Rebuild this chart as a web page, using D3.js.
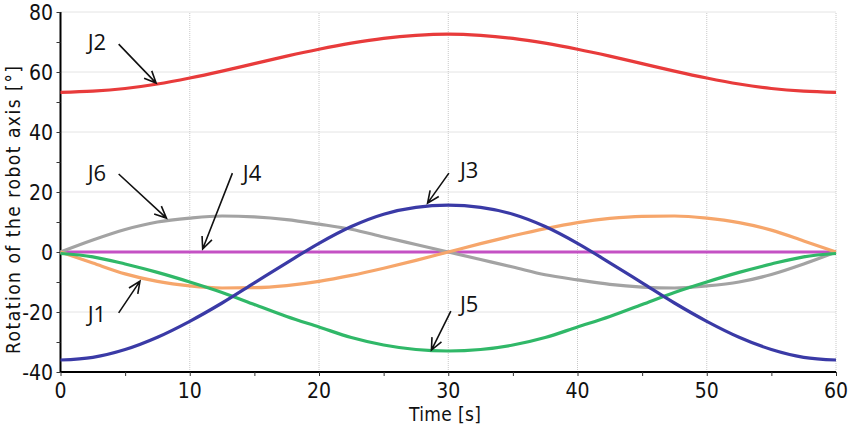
<!DOCTYPE html>
<html>
<head>
<meta charset="utf-8">
<script src="https://cdn.jsdelivr.net/npm/d3@7"></script>
<style>
  body { margin: 0; background: #fff; }
  svg { display: block; }
</style>
</head>
<body>
<script>
var width = 848,
    height = 427;

// time samples [s]
var times = [0, 2.5, 5, 7.5, 10, 12.5, 15, 17.5, 20, 22.5, 25, 27.5, 30,
             32.5, 35, 37.5, 40, 42.5, 45, 47.5, 50, 52.5, 55, 57.5, 60];

// joint rotations [deg]
var j1 = [0, -3.7, -7.3, -9.8, -11.3, -12, -11.9, -11.2, -9.8, -7.8, -5.4, -2.8, 0,
          2.8, 5.4, 7.8, 9.8, 11.2, 11.9, 12, 11.3, 9.8, 7.3, 3.7, 0];
var j2 = [53.2, 53.6, 54.5, 56, 58, 60.3, 62.8, 65.3, 67.6, 69.6, 71.2, 72.2, 72.6,
          72.2, 71.2, 69.6, 67.6, 65.3, 62.8, 60.3, 58, 56, 54.5, 53.6, 53.2];
var j3 = [-36, -35.1, -32.5, -28.4, -23.1, -17, -10.3, -3.6, 2.9, 8.5, 12.6, 14.9, 15.6,
          14.9, 12.6, 8.5, 2.9, -3.6, -10.3, -17, -23.1, -28.4, -32.5, -35.1, -36];
var j4 = [0, 0, 0, 0, 0, 0, 0, 0, 0, 0, 0, 0, 0,
          0, 0, 0, 0, 0, 0, 0, 0, 0, 0, 0, 0];
var j5 = [-0.5, -1.6, -4, -6.8, -10, -13.5, -17.5, -21.5, -25, -28.5, -31, -32.5, -33,
          -32.5, -31, -28.5, -25, -21.5, -17.5, -13.5, -10, -6.8, -4, -1.6, -0.5];
var j6 = [0, 4, 7.5, 10, 11.3, 12, 11.7, 10.8, 9.3, 7.6, 5, 2.5, 0,
          -2.5, -5, -7.6, -9.3, -10.8, -11.7, -12, -11.3, -10, -7.5, -4, 0];

var seriesNames = ["J4", "J6", "J1", "J5", "J3", "J2"];
var seriesValues = [j4, j6, j1, j5, j3, j2];
var seriesColors = ["#c451c4", "#a3a3a3", "#f6a66b", "#30b868", "#3a3aa6", "#e83b3b"];

var xTicks = [0, 10, 20, 30, 40, 50, 60];
var yTicks = [-40, -20, 0, 20, 40, 60, 80];

// annotation labels: text anchor point and arrow (from -> to), in data units
var labelNames = ["J2", "J6", "J4", "J3", "J5", "J1"];
var labelPos   = [[2.1, 67.3], [2.1, 23.7], [14.1, 23.7], [30.9, 24.7], [30.9, -20], [2.1, -23.3]];
var arrowFrom  = [[4.5, 69.3], [4.5, 26], [13.3, 26.3], [30.05, 26.3], [30.2, -19.7], [4.5, -20.3]];
var arrowTo    = [[7.4, 56.3], [8.2, 11.3], [11.0, 1], [28.4, 16.3], [28.7, -32.7], [6.15, -9.7]];

var x = d3.scaleLinear().domain([0, 60]).range([60.5, 836]);
var y = d3.scaleLinear().domain([-40, 80]).range([372, 12]);

var svg = d3.select("body").append("svg")
    .attr("width", width)
    .attr("height", height);

var tickFont = "'DejaVu Sans Condensed', 'DejaVu Sans', sans-serif";

// grid
svg.append("g").selectAll("line")
    .data(yTicks.filter(function (d) { return d > -40; }))
    .enter().append("line")
    .attr("x1", x(0)).attr("x2", x(60))
    .attr("y1", function (d) { return y(d); })
    .attr("y2", function (d) { return y(d); })
    .attr("stroke", "#c8c8c8")
    .attr("stroke-dasharray", "1,1");

svg.append("g").selectAll("line")
    .data(xTicks.filter(function (d) { return d > 0; }))
    .enter().append("line")
    .attr("y1", y(-40)).attr("y2", y(80))
    .attr("x1", function (d) { return x(d); })
    .attr("x2", function (d) { return x(d); })
    .attr("stroke", "#c8c8c8")
    .attr("stroke-dasharray", "1,1");

// axes
var xAxis = d3.axisBottom(x).tickValues(d3.range(0, 61, 5)).tickSize(4).tickFormat("");
var yAxis = d3.axisLeft(y).tickValues(d3.range(-40, 81, 10)).tickSize(4).tickFormat("");

svg.append("g").attr("transform", "translate(0," + y(-40) + ")").call(xAxis)
    .call(function (g) {
        g.select(".domain").attr("stroke-width", 2).attr("d", "M" + x(0) + ",0H" + x(60));
        g.selectAll(".tick line").attr("stroke", "#333");
    });
svg.append("g").attr("transform", "translate(" + x(0) + ",0)").call(yAxis)
    .call(function (g) {
        g.select(".domain").attr("stroke-width", 2).attr("d", "M0," + y(-40) + "V" + y(80));
        g.selectAll(".tick line").attr("stroke", "#333");
    });

svg.append("g").selectAll("text")
    .data(xTicks)
    .enter().append("text")
    .attr("x", function (d) { return x(d); })
    .attr("y", 398)
    .attr("text-anchor", "middle")
    .attr("font-family", tickFont)
    .attr("font-size", 21)
    .attr("fill", "#111")
    .text(function (d) { return d; });

svg.append("g").selectAll("text")
    .data(yTicks)
    .enter().append("text")
    .attr("x", 53)
    .attr("y", function (d) { return y(d) + 7.5; })
    .attr("text-anchor", "end")
    .attr("font-family", tickFont)
    .attr("font-size", 21)
    .attr("fill", "#111")
    .text(function (d) { return d; });

// axis titles
svg.append("text")
    .attr("x", 445).attr("y", 421)
    .attr("text-anchor", "middle")
    .attr("font-family", tickFont)
    .attr("font-size", 19)
    .attr("fill", "#111")
    .attr("textLength", 72)
    .attr("lengthAdjust", "spacing")
    .text("Time [s]");

svg.append("text")
    .attr("transform", "translate(20,210) rotate(-90)")
    .attr("text-anchor", "middle")
    .attr("font-family", tickFont)
    .attr("font-size", 19)
    .attr("fill", "#111")
    .attr("textLength", 288)
    .attr("lengthAdjust", "spacing")
    .text("Rotation of the robot axis [°]");

// curves
var line = d3.line()
    .x(function (d, i) { return x(times[i]); })
    .y(function (d) { return y(d); })
    .curve(d3.curveMonotoneX);

svg.append("g").selectAll("path")
    .data(seriesValues)
    .enter().append("path")
    .attr("d", line)
    .attr("fill", "none")
    .attr("stroke", function (d, i) { return seriesColors[i]; })
    .attr("stroke-width", 3.2);

// annotations
var ann = svg.append("g");
labelNames.forEach(function (name, i) {
    ann.append("text")
        .attr("x", x(labelPos[i][0]))
        .attr("y", y(labelPos[i][1]))
        .attr("font-family", "'Open Sans', 'Noto Sans', sans-serif")
        .attr("font-size", 22)
        .attr("fill", "#111")
        .text(name);

    var x1 = x(arrowFrom[i][0]), y1 = y(arrowFrom[i][1]),
        x2 = x(arrowTo[i][0]), y2 = y(arrowTo[i][1]);
    var a = Math.atan2(y2 - y1, x2 - x1), len = 13, spread = 0.42;
    ann.append("path")
        .attr("d", "M" + x1 + "," + y1 + "L" + x2 + "," + y2 +
            "M" + (x2 - len * Math.cos(a - spread)) + "," + (y2 - len * Math.sin(a - spread)) +
            "L" + x2 + "," + y2 +
            "L" + (x2 - len * Math.cos(a + spread)) + "," + (y2 - len * Math.sin(a + spread)))
        .attr("fill", "none")
        .attr("stroke", "#111")
        .attr("stroke-width", 1.6);
});
</script>
</body>
</html>
